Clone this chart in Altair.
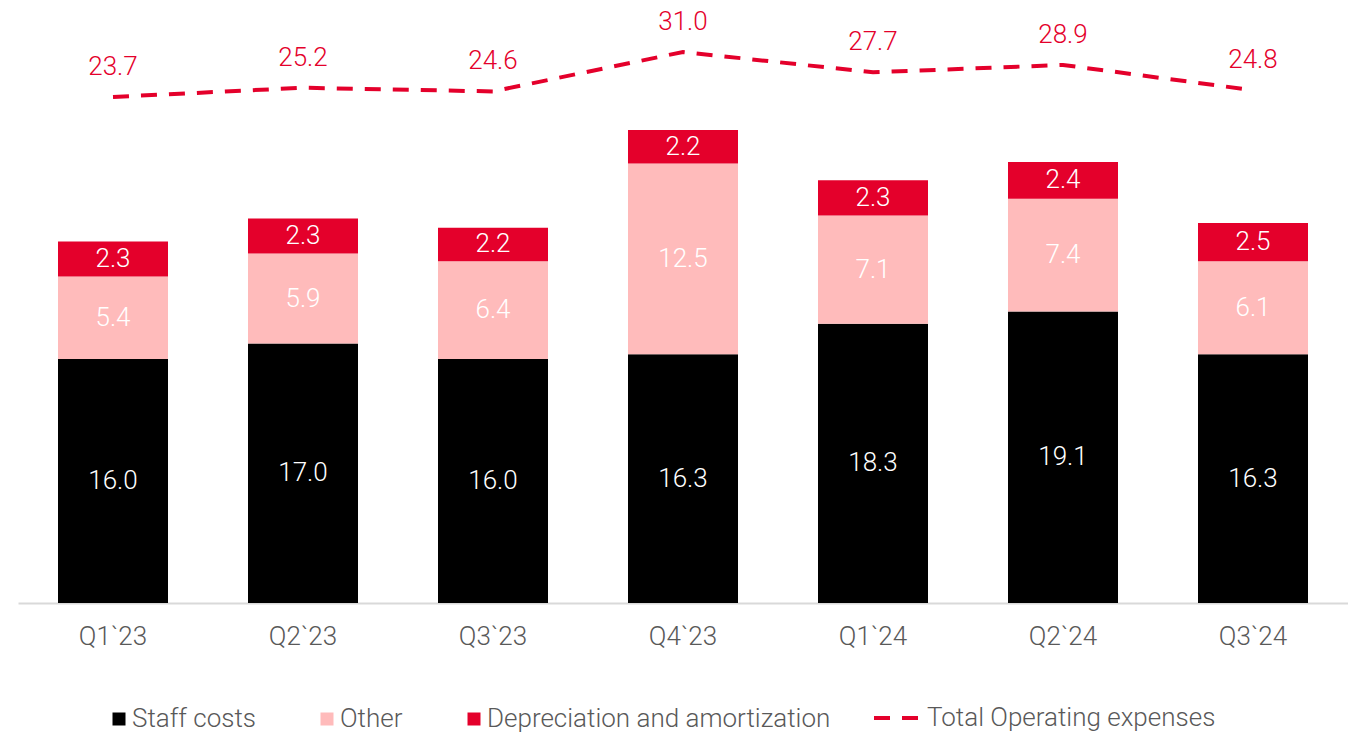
import altair as alt
import pandas as pd

quarters = ["Q1`23", "Q2`23", "Q3`23", "Q4`23", "Q1`24", "Q2`24", "Q3`24"]
staff = [16.0, 17.0, 16.0, 16.3, 18.3, 19.1, 16.3]
other = [5.4, 5.9, 6.4, 12.5, 7.1, 7.4, 6.1]
dep = [2.3, 2.3, 2.2, 2.2, 2.3, 2.4, 2.5]
total = [23.7, 25.2, 24.6, 31.0, 27.7, 28.9, 24.8]
series = ["Staff costs", "Other", "Depreciation and amortization"]
colors = ["#000000", "#FFBBBB", "#E4002B"]
line_name = "Total Operating expenses"

rows = []
for i, q in enumerate(quarters):
    base = 0.0
    for k, (name, vals) in enumerate(zip(series, [staff, other, dep])):
        v = vals[i]
        rows.append({"q": q, "series": name, "order": k, "value": v,
                     "y0": base, "y1": base + v, "mid": base + v / 2})
        base += v
bars_df = pd.DataFrame(rows)
line_df = pd.DataFrame({"q": quarters, "total": total, "name": line_name})

FONT = "Roboto"
FS = 26
x = alt.X("q:N", sort=quarters, title=None,
          scale=alt.Scale(paddingInner=0.42, paddingOuter=0.21),
          axis=alt.Axis(labelAngle=0, labelFontSize=FS, labelFont=FONT, labelFontWeight=300,
                        labelColor="#595959", labelPadding=20, ticks=False,
                        domainColor="#D9D9D9", domainWidth=2))

ybar = alt.Scale(domain=[0, 38.8], nice=False, zero=True)

bars = alt.Chart(bars_df).mark_bar(size=110).encode(
    x=x,
    y=alt.Y("y0:Q", scale=ybar, axis=None),
    y2="y1:Q",
    color=alt.Color("series:N", sort=series,
                    scale=alt.Scale(domain=series, range=colors),
                    legend=alt.Legend(title=None, orient="none", direction="horizontal",
                                      legendX=88, legendY=695, symbolType="square",
                                      symbolSize=169, symbolStrokeWidth=0,
                                      labelFontSize=FS, labelFont=FONT, labelFontWeight=300,
                                      labelColor="#595959", labelOffset=0, columnPadding=58,
                                      labelLimit=600, padding=0)),
    order="order:Q",
)

bar_text = alt.Chart(bars_df).mark_text(color="white", fontSize=FS, font=FONT,
                                        fontWeight=300, baseline="middle").encode(
    x=alt.X("q:N", sort=quarters),
    y=alt.Y("mid:Q", scale=ybar, axis=None),
    text=alt.Text("value:Q", format=".1f"),
)

yline = alt.Scale(domain=[-58.4, 37.65], nice=False, zero=False)

line = alt.Chart(line_df).mark_line(color="#E4002B", strokeWidth=4).encode(
    x=alt.X("q:N", sort=quarters),
    y=alt.Y("total:Q", scale=yline, axis=None),
    strokeDash=alt.StrokeDash("name:N",
                              scale=alt.Scale(domain=[line_name], range=[[16, 12]]),
                              legend=alt.Legend(title=None, orient="none", legendX=854,
                                                legendY=683, symbolType="stroke",
                                                symbolSize=1936, symbolStrokeWidth=4,
                                                symbolStrokeColor="#E4002B",
                                                labelFontSize=FS, labelFont=FONT,
                                                labelFontWeight=300, labelColor="#595959",
                                                labelOffset=7, labelLimit=600, padding=0)),
)

line_text = alt.Chart(line_df).mark_text(color="#E4002B", fontSize=FS, font=FONT,
                                         fontWeight=300, baseline="middle", dy=-30).encode(
    x=alt.X("q:N", sort=quarters),
    y=alt.Y("total:Q", scale=yline, axis=None),
    text=alt.Text("total:Q", format=".1f"),
)

chart = alt.layer(
    alt.layer(bars, bar_text),
    alt.layer(line, line_text),
).resolve_scale(y="independent").properties(
    width=1330, height=592,
    autosize=alt.AutoSizeParams(type="none"),
    padding={"left": 10, "top": 3, "right": 0, "bottom": 130},
).configure(background="white").configure_view(strokeWidth=0, stroke="transparent")

chart.save("out.html", embed_options={"renderer": "svg", "actions": False})
